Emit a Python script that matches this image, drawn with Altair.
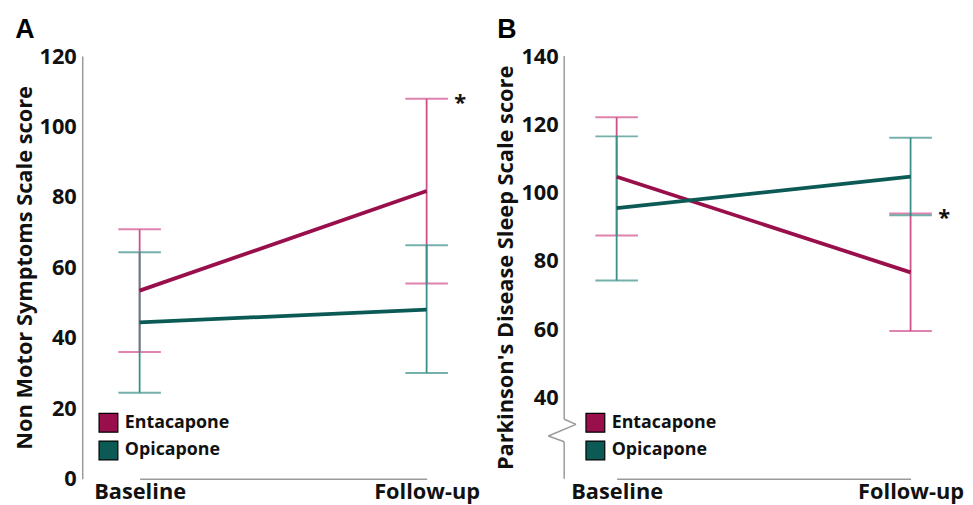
import altair as alt
import pandas as pd

times = ["Baseline", "Follow-up"]
groups = ["Entacapone", "Opicapone"]

# Panel A: Non Motor Symptoms Scale score (mean, lower, upper)
a_ent_mean = [53.4, 81.7]
a_ent_low = [36.0, 55.4]
a_ent_high = [70.8, 107.9]
a_opi_mean = [44.4, 48.0]
a_opi_low = [24.4, 30.0]
a_opi_high = [64.3, 66.3]
a_ticks = [0, 20, 40, 60, 80, 100, 120]

# Panel B: Parkinson's Disease Sleep Scale score
b_ent_mean = [104.7, 76.7]
b_ent_low = [87.5, 59.5]
b_ent_high = [122.1, 93.9]
b_opi_mean = [95.5, 104.7]
b_opi_low = [74.3, 93.4]
b_opi_high = [116.5, 116.1]
b_ticks = [40, 60, 80, 100, 120, 140]

# significance markers
a_star = [107.9]
b_star = [93.7]

ENT = "#990f4b"
OPI = "#0b5a55"
ENT_BAR = "#cf4f8a"
OPI_BAR = "#3a8f87"
AXIS_GRAY = "#9a9a9a"
FONT = "Open Sans"
TXT = "#111111"


def make_df(em, el, eh, om, ol, oh):
    rows = []
    for g, m, lo, hi in [("Entacapone", em, el, eh), ("Opicapone", om, ol, oh)]:
        for t, mv, lv, hv in zip(times, m, lo, hi):
            rows.append({"group": g, "series": g, "time": t,
                         "mean": mv, "low": lv, "high": hv})
    return pd.DataFrame(rows)


def panel(df, star, domain, ticks, letter, ytitle, width, xrange, legend_x, broken=None):
    xaxis = alt.Axis(title=None, labelAngle=0, labelFontSize=22, labelPadding=3,
                     ticks=False, grid=False, domainColor=AXIS_GRAY, domainWidth=1.5,
                     labelFont=FONT, labelFontWeight="bold", labelColor=TXT)
    xscale = alt.Scale(type="point", domain=times, range=xrange, padding=0)
    yaxis = alt.Axis(title=ytitle, values=ticks, ticks=False, grid=False,
                     domain=broken is None, domainColor=AXIS_GRAY, domainWidth=1.5,
                     labelFont=FONT, labelFontWeight="bold", labelFontSize=22,
                     labelColor=TXT, labelPadding=6,
                     titleFont=FONT, titleFontWeight="bold", titleFontSize=22,
                     titleColor=TXT, titlePadding=3)
    yscale = alt.Scale(domain=domain, nice=False, zero=False)

    def X():
        return alt.X("time:N", scale=xscale, axis=xaxis)

    def Y(f):
        return alt.Y(f + ":Q", scale=yscale, axis=yaxis)

    leg = alt.Legend(orient="none", legendX=legend_x, legendY=360,
                     title=None, symbolType="square", symbolSize=361,
                     symbolStrokeColor="black", symbolStrokeWidth=1.2,
                     symbolOpacity=1, labelFont=FONT, labelFontSize=18,
                     labelFontWeight="bold", labelColor=TXT,
                     rowPadding=3, labelOffset=6)

    base = alt.Chart(df)
    layers = []
    for g, col in [("Entacapone", ENT_BAR), ("Opicapone", OPI_BAR)]:
        sub = base.transform_filter(alt.datum.group == g)
        layers.append(sub.mark_rule(color=col, strokeWidth=1.8).encode(
            x=X(), y=Y("low"), y2="high:Q"))
        layers.append(sub.mark_tick(color=col, orient="horizontal", size=43,
                                    thickness=2).encode(x=X(), y=Y("low")))
        layers.append(sub.mark_tick(color=col, orient="horizontal", size=43,
                                    thickness=2).encode(x=X(), y=Y("high")))

    # mean lines (colour scale domain taken from the data, so its legend stays separate)
    layers.append(base.mark_line(strokeWidth=3.8).encode(
        x=X(), y=Y("mean"),
        color=alt.Color("series:N", scale=alt.Scale(range=[ENT, OPI]), legend=None)))

    # invisible mean squares carrying the filled-square legend
    layers.append(base.mark_square(size=10, opacity=0).encode(
        x=X(), y=Y("mean"),
        fill=alt.Fill("group:N", scale=alt.Scale(domain=groups, range=[ENT, OPI]),
                      legend=leg)))

    star_df = pd.DataFrame({"time": ["Follow-up"], "v": star})
    layers.append(alt.Chart(star_df).mark_text(text="*", dx=34, dy=4, fontSize=22,
                                                fontWeight="bold", font=FONT,
                                                color=TXT).encode(x=X(), y=Y("v")))

    if broken is not None:
        one = alt.Chart(pd.DataFrame({"k": [0]}))
        b1, b2, b3, b4 = broken
        segs = [(0, 0, domain[1], b1), (0, 12, b1, b2), (12, -16, b2, b3),
                (-16, 0, b3, b4), (0, 0, b4, domain[0])]
        for xa, xb, ya, yb in segs:
            layers.append(one.mark_rule(color=AXIS_GRAY, strokeWidth=1.5).encode(
                x=alt.value(xa), x2=alt.value(xb),
                y=alt.YDatum(ya, type="quantitative", scale=yscale, axis=yaxis),
                y2=alt.Y2Datum(yb)))

    return alt.layer(*layers).properties(
        width=width, height=427,
        title=alt.TitleParams(letter, anchor="start", frame="bounds", fontSize=27,
                              font="Liberation Sans", fontWeight="bold", color="black",
                              offset=1, dx=2),
    )


dfa = make_df(a_ent_mean, a_ent_low, a_ent_high, a_opi_mean, a_opi_low, a_opi_high)
dfb = make_df(b_ent_mean, b_ent_low, b_ent_high, b_opi_mean, b_opi_low, b_opi_high)

pa = panel(dfa, a_star, [0, 120], a_ticks, "A", "Non Motor Symptoms Scale score",
           400, [58, 348], 16)
pb = panel(dfb, b_star, [16.3, 140], b_ticks, "B", "Parkinson's Disease Sleep Scale score",
           402, [53, 350], 21, broken=(33.7, 32.2, 28.8, 27.1))

chart = alt.hconcat(pa, pb, spacing=13).resolve_scale(
    x="independent", y="independent", color="independent", fill="independent"
).resolve_legend(color="independent", fill="independent").properties(
    padding={"left": 4, "top": 5, "right": 0, "bottom": 0}
).configure_view(stroke="transparent")

chart.save("out.html", embed_options={"renderer": "svg", "actions": False})
